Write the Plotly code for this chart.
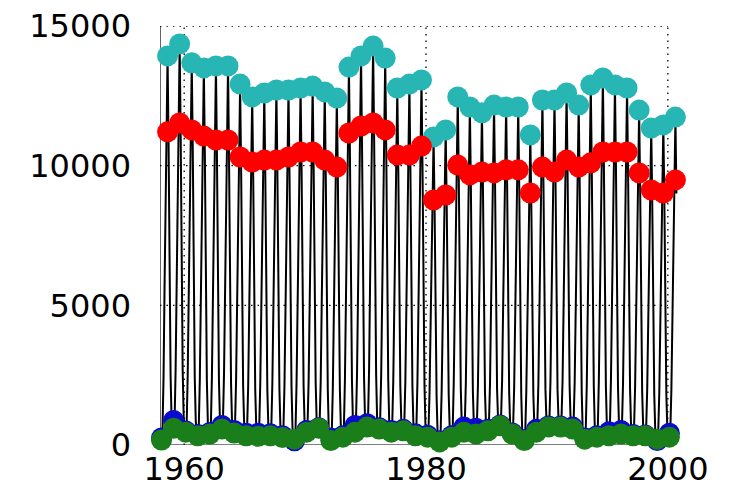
import plotly.graph_objects as go

years = list(range(1958, 2001))

# annual peak (cyan), upper level (red), annual low (blue) and low (green)
peak_cyan = [13930, 14360, 13680, 13500, 13570, 13570, 12920, 12460, 12600, 12710,
             12710, 12780, 12850, 12640, 12420, 13530, 13930, 14280, 13850, 12780,
             12920, 13070, 11030, 11280, 12460, 12100, 11890, 12170, 12100, 12100,
             11100, 12350, 12350, 12600, 12170, 12890, 13140, 12890, 12780, 11990,
             11350, 11460, 11740]
upper_red = [11210, 11530, 11280, 11060, 10920, 10920, 10310, 10130, 10200, 10200,
             10310, 10490, 10490, 10200, 9950, 11170, 11420, 11530, 11280, 10380,
             10380, 10700, 8770, 8950, 10020, 9670, 9770, 9740, 9850, 9850,
             9020, 9950, 9770, 10200, 9950, 10100, 10490, 10490, 10490, 9740,
             9130, 9020, 9490]
low_blue = [250, 880, 500, 380, 450, 700, 520, 420, 420, 400,
            330, 150, 520, 620, 250, 330, 700, 760, 620, 520,
            560, 400, 350, 150, 330, 640, 600, 560, 720, 430,
            200, 560, 680, 680, 640, 250, 330, 470, 520, 380,
            360, 160, 420]
low_green = [180, 600, 460, 330, 390, 570, 430, 330, 310, 330,
             270, 210, 460, 600, 160, 280, 460, 640, 570, 460,
             510, 330, 280, 110, 280, 460, 390, 510, 690, 390,
             160, 460, 640, 640, 570, 210, 280, 330, 390, 330,
             330, 210, 280]

# monthly series, Jan..Dec for each year (2000 ends in September)
monthly = [
    [250, 180, 600, 2400, 5600, 9100, 11600, 13930, 10800, 6200, 2500, 900],
    [650, 600, 900, 2700, 6000, 9600, 12100, 14360, 11200, 6500, 2700, 1000],
    [520, 460, 800, 2500, 5700, 9200, 11700, 13680, 10700, 6100, 2400, 850],
    [380, 330, 700, 2300, 5500, 9000, 11500, 13500, 10500, 5900, 2300, 800],
    [430, 390, 750, 2400, 5400, 8900, 11400, 13570, 10400, 5800, 2300, 850],
    [620, 570, 900, 2500, 5500, 8800, 11300, 13570, 10300, 5700, 2200, 800],
    [480, 430, 800, 2300, 5100, 8400, 10700, 12920, 9900, 5500, 2100, 750],
    [370, 330, 650, 2100, 4900, 8100, 10500, 12460, 9600, 5300, 2000, 700],
    [350, 310, 650, 2200, 5000, 8200, 10600, 12600, 9700, 5400, 2000, 700],
    [370, 330, 700, 2200, 5000, 8300, 10600, 12710, 9800, 5400, 2000, 650],
    [300, 270, 600, 2100, 5000, 8300, 10700, 12710, 9800, 5500, 2100, 600],
    [240, 210, 550, 2200, 5100, 8400, 10900, 12780, 9900, 5500, 2100, 750],
    [500, 460, 800, 2300, 5200, 8500, 10900, 12850, 9900, 5600, 2200, 850],
    [650, 600, 900, 2300, 5100, 8300, 10600, 12640, 9700, 5400, 2000, 500],
    [200, 160, 500, 2000, 4800, 8000, 10400, 12420, 9600, 5300, 2000, 600],
    [320, 280, 650, 2300, 5400, 8900, 11500, 13530, 10400, 5800, 2300, 800],
    [500, 460, 850, 2500, 5600, 9100, 11800, 13930, 10700, 6000, 2400, 900],
    [690, 640, 1000, 2700, 5900, 9400, 11900, 14280, 11000, 6200, 2500, 900],
    [620, 570, 950, 2500, 5600, 9000, 11600, 13850, 10700, 5900, 2300, 800],
    [500, 460, 800, 2300, 5200, 8500, 10800, 12780, 9800, 5500, 2100, 800],
    [560, 510, 850, 2300, 5200, 8500, 10800, 12920, 9900, 5500, 2100, 700],
    [370, 330, 700, 2300, 5300, 8700, 11100, 13070, 10000, 5600, 2100, 600],
    [320, 280, 600, 1900, 4400, 7300, 9200, 11030, 8500, 4700, 1700, 400],
    [150, 110, 450, 1900, 4500, 7400, 9400, 11280, 8700, 4800, 1800, 600],
    [320, 280, 650, 2200, 5000, 8200, 10400, 12460, 9600, 5300, 2000, 700],
    [500, 460, 800, 2200, 4900, 8000, 10100, 12100, 9300, 5100, 1900, 700],
    [430, 390, 750, 2100, 4800, 7900, 10100, 11890, 9200, 5100, 1900, 750],
    [560, 510, 850, 2200, 4900, 8000, 10200, 12170, 9400, 5200, 2000, 900],
    [740, 690, 1000, 2300, 4900, 8000, 10200, 12100, 9300, 5100, 1900, 700],
    [430, 390, 750, 2100, 4800, 7900, 10200, 12100, 9300, 5100, 1800, 450],
    [200, 160, 500, 1900, 4400, 7300, 9400, 11100, 8600, 4800, 1800, 700],
    [500, 460, 800, 2200, 5000, 8100, 10300, 12350, 9500, 5200, 2000, 900],
    [690, 640, 950, 2300, 5000, 8100, 10200, 12350, 9500, 5200, 2000, 900],
    [690, 640, 1000, 2300, 5100, 8300, 10600, 12600, 9700, 5400, 2100, 850],
    [620, 570, 900, 2200, 4900, 8000, 10300, 12170, 9400, 5200, 1900, 500],
    [250, 210, 550, 2100, 5000, 8300, 10600, 12890, 9900, 5500, 2100, 600],
    [320, 280, 650, 2300, 5200, 8600, 10900, 13140, 10100, 5600, 2100, 650],
    [370, 330, 700, 2300, 5200, 8500, 10900, 12890, 9900, 5500, 2100, 700],
    [430, 390, 750, 2200, 5100, 8400, 10900, 12780, 9800, 5400, 2000, 650],
    [370, 330, 700, 2100, 4800, 7900, 10100, 11990, 9200, 5100, 1900, 650],
    [370, 330, 650, 2000, 4500, 7500, 9500, 11350, 8700, 4800, 1800, 500],
    [250, 210, 550, 1900, 4500, 7500, 9400, 11460, 8800, 4800, 1800, 550],
    [320, 280, 600, 2000, 4600, 7600, 9800, 11740, 9000],
]

x_ticks = [1960, 1980, 2000]
y_ticks = [0, 5000, 10000, 15000]
tick_text_y = ["0", "5000", "10000", "15000"]

# time coordinates
t_line, v_line = [], []
for y, row in zip(years, monthly):
    for m, v in enumerate(row):
        t_line.append(y + (m + 0.5) / 12)
        v_line.append(v)
t_peak = [y + 7.5 / 12 for y in years]
t_low = [y + 1.5 / 12 for y in years]

fig = go.Figure()
fig.add_trace(go.Scatter(x=t_line, y=v_line, mode="lines",
                         line=dict(color="black", width=2), hoverinfo="skip"))
msize = 21
fig.add_trace(go.Scatter(x=t_peak, y=peak_cyan, mode="markers", cliponaxis=False,
                         marker=dict(color="#27b6b3", size=msize, line=dict(width=0))))
fig.add_trace(go.Scatter(x=t_peak, y=upper_red, mode="markers", cliponaxis=False,
                         marker=dict(color="#ff0000", size=msize, line=dict(width=0))))
fig.add_trace(go.Scatter(x=t_low, y=low_blue, mode="markers", cliponaxis=False,
                         marker=dict(color="#0a0ad0", size=msize, line=dict(width=0))))
fig.add_trace(go.Scatter(x=t_low, y=low_green, mode="markers", cliponaxis=False,
                         marker=dict(color="#1a7f1a", size=msize, line=dict(width=0))))

xmin, xgrid_end = 1958, 2000
shapes = []
for xv in x_ticks:
    shapes.append(dict(type="line", xref="x", yref="y", x0=xv, x1=xv, y0=0, y1=15000,
                       line=dict(color="black", width=1.3, dash="1.5px,5px"), layer="below"))
for yv in y_ticks[1:]:
    shapes.append(dict(type="line", xref="x", yref="y", x0=xmin, x1=xgrid_end, y0=yv, y1=yv,
                       line=dict(color="black", width=1.3, dash="1.5px,5px"), layer="below"))
shapes.append(dict(type="line", xref="x", yref="y", x0=xmin, x1=xgrid_end, y0=0, y1=0,
                   line=dict(color="black", width=1.2), layer="below"))
shapes.append(dict(type="line", xref="x", yref="y", x0=xmin, x1=xmin, y0=0, y1=15000,
                   line=dict(color="black", width=1.2), layer="below"))

font = dict(family="DejaVu Sans", size=32, color="black")
fig.update_layout(
    width=729, height=490,
    margin=dict(l=160, r=43, t=26, b=45, autoexpand=False),
    paper_bgcolor="white", plot_bgcolor="white",
    showlegend=False,
    shapes=shapes,
    xaxis=dict(range=[1958, 2001.5], tickmode="array", tickvals=x_ticks,
               ticktext=[str(v) for v in x_ticks], showgrid=False, zeroline=False,
               showline=False, ticks="", tickfont=font, ticklabelstandoff=2,
               automargin=False),
    yaxis=dict(range=[0, 15000], tickmode="array", tickvals=y_ticks, ticktext=tick_text_y,
               showgrid=False, zeroline=False, showline=False, ticks="",
               tickfont=font, ticklabelstandoff=28, automargin=False),
)

fig.write_html("out.html")
